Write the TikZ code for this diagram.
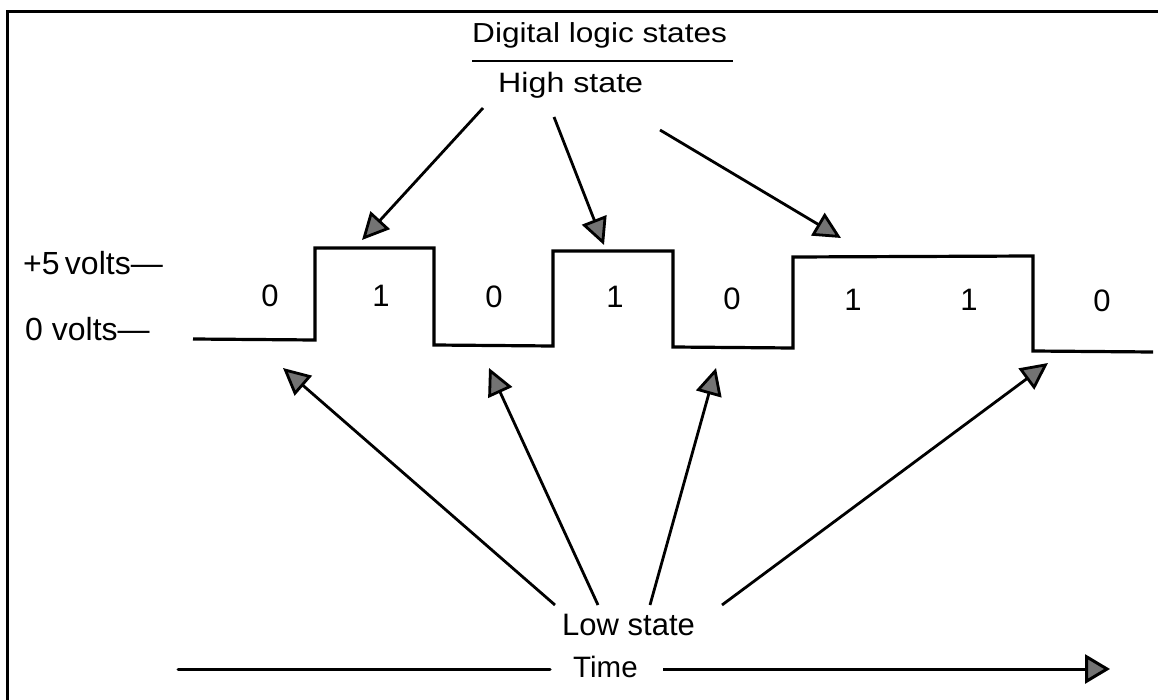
\documentclass[tikz,border=0pt]{standalone}
\usepackage{fontspec}
\setmainfont{Liberation Sans}
\newfontfamily\widefont[FakeStretch=1.15]{Liberation Sans}
\usetikzlibrary{arrows.meta}
\begin{document}
\begin{tikzpicture}[x=1pt,y=-1pt,
  lbl/.style={inner sep=0pt, anchor=base west, font=\fontsize{31}{37}\selectfont},
  wlbl/.style={inner sep=0pt, anchor=base west, font=\widefont\fontsize{27.5}{33}\selectfont},
  num/.style={inner sep=0pt, anchor=base, font=\fontsize{31}{37}\selectfont},
  ptr/.style={line width=2.8pt, -{Triangle[length=27pt,width=26pt,fill=black!55]}},
  timeline/.style={line width=3pt, line cap=round},
  timeptr/.style={line width=3pt, -{Triangle[length=25pt,width=29pt,fill=black!55]}},
  wave/.style={line width=3.2pt, line join=miter},
  frameline/.style={line width=3pt},
  rule/.style={line width=2.8pt}]
\useasboundingbox (0,0) rectangle (1158,700);
% frame
\draw[frameline] (7,700) -- (7,12) -- (1158,12);
% texts
\node[wlbl] (title) at (472,43) {Digital logic states};
\draw[rule] (472,61) -- (733,61);
\node[wlbl, font=\widefont\fontsize{28}{34}\selectfont] (high) at (498,93) {High state};
\node[lbl] (low) at (562,635) {Low state};
\node[lbl, font=\fontsize{29.5}{35}\selectfont] (time) at (573,677) {Time};
\node[lbl, font=\fontsize{32}{38}\selectfont] (v5) at (23,275) {+5\,volts—};
\node[lbl, font=\fontsize{32}{38}\selectfont] (v0) at (25,340) {0 volts—};
% waveform
\draw[wave] (193,339) -- (315,340) -- (315,248) -- (434,248) -- (434,345)
  -- (553,346) -- (553,251) -- (673,251) -- (673,347) -- (793,348)
  -- (793,257) -- (1033,256) -- (1033,351) -- (1153,352);
% bit values
\node[num] (b1) at (270,307) {0};
\node[num] (b2) at (381,307) {1};
\node[num] (b3) at (494,308) {0};
\node[num] (b4) at (615,308) {1};
\node[num] (b5) at (732,309) {0};
\node[num] (b6) at (853,310) {1};
\node[num] (b7) at (969,310) {1};
\node[num] (b8) at (1102,312) {0};
% arrow end points
\coordinate (h1s) at (483,108); \coordinate (h1t) at (362,240);
\coordinate (h2s) at (554,117); \coordinate (h2t) at (604,245);
\coordinate (h3s) at (660,130); \coordinate (h3t) at (841,238);
\coordinate (l1s) at (555,605); \coordinate (l1t) at (283,368);
\coordinate (l2s) at (598,605); \coordinate (l2t) at (489,368);
\coordinate (l3s) at (650,605); \coordinate (l3t) at (716,368);
\coordinate (l4s) at (722,605); \coordinate (l4t) at (1048,363);
\coordinate (tA) at (178,669); \coordinate (tB) at (550,669);
\coordinate (tC) at (663,669); \coordinate (tD) at (1110,669);
% high state arrows
\draw[ptr] (h1s) -- (h1t);
\draw[ptr] (h2s) -- (h2t);
\draw[ptr] (h3s) -- (h3t);
% low state arrows
\draw[ptr] (l1s) -- (l1t);
\draw[ptr] (l2s) -- (l2t);
\draw[ptr] (l3s) -- (l3t);
\draw[ptr] (l4s) -- (l4t);
% time axis
\draw[timeline] (tA) -- (tB);
\draw[timeptr] (tC) -- (tD);
\end{tikzpicture}
\end{document}
